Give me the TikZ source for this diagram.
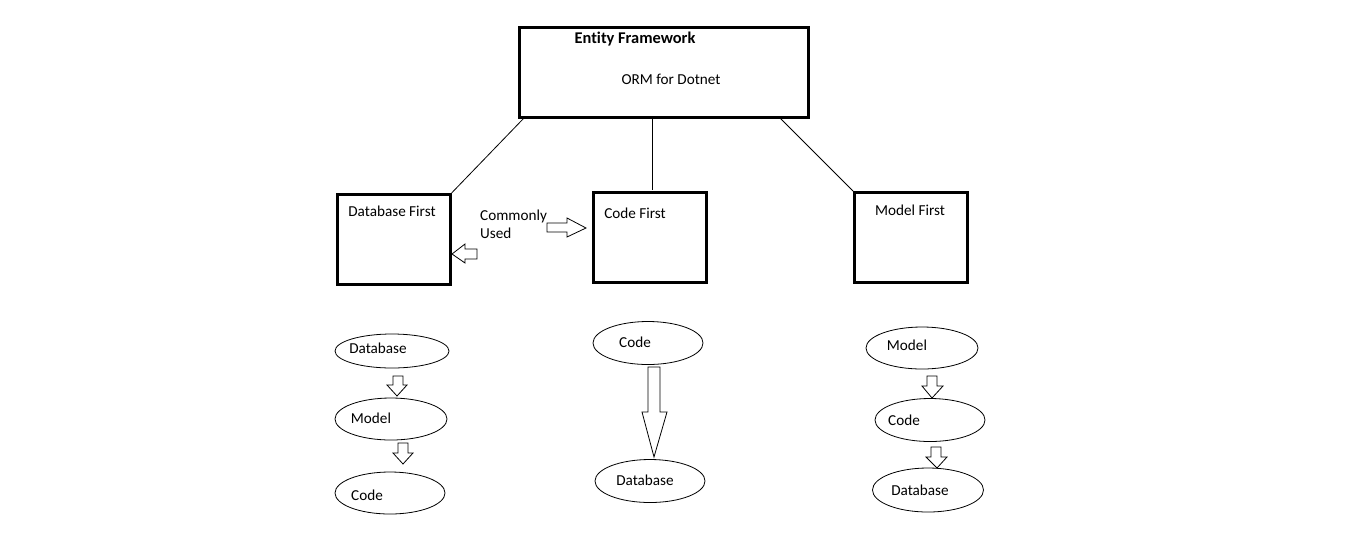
\documentclass[tikz,border=0pt]{standalone}
\usepackage{fontspec}
\setmainfont[Ligatures=NoCommon]{Carlito}
\usetikzlibrary{shapes.geometric}
\begin{document}
\begin{tikzpicture}[x=1pt,y=-1pt,
  box/.style={draw,line width=2.6pt,minimum width=113pt,minimum height=90pt,anchor=north west,inner sep=0pt},
  ell/.style={draw,ellipse,line width=0.8pt,inner sep=0pt},
  lbl/.style={font=\fontsize{15.2}{17}\selectfont,inner sep=0pt},
  link/.style={line width=0.8pt},
  blk/.style={draw,line width=0.8pt,fill=white}]
\useasboundingbox[fill=white] (0,0) rectangle (1356,550);
% top box
\node[box,minimum width=289pt,minimum height=90pt] (top) at (518,26) {};
\node[lbl,font=\fontsize{16.4}{18}\selectfont\bfseries] (ef) at (635,39) {Entity Framework};
\node[lbl] (orm) at (671,79) {ORM for Dotnet};
% three approach boxes
\node[box] (dbf) at (336,193) {};
\node[lbl] (dbft) at (392,211) {Database First};
\node[box] (cf) at (592,191) {};
\node[lbl] (cft) at (635,213) {Code First};
\node[box] (mf) at (853,191) {};
\node[lbl] (mft) at (910,210) {Model First};
% connecting lines
\coordinate (t1) at (524,118);
\coordinate (t2) at (652,118);
\coordinate (t3) at (780,118);
\coordinate (c2) at (652,190);
\draw[link] (t1) -- (dbf.north east);
\draw[link] (t2) -- (c2);
\draw[link] (t3) -- (mf.north west);
% commonly used
\node[lbl,align=left,anchor=west] (cu) at (480,224) {Commonly\\[1pt]Used};
\draw[blk] (547,223) -- (567,223) -- (567,218) -- (586,228) -- (567,237) -- (567,232) -- (547,232) -- cycle;
\draw[blk] (477,249) -- (465,249) -- (465,244) -- (452,254) -- (465,263) -- (465,259) -- (477,259) -- cycle;
% left column
\node[ell,minimum width=114pt,minimum height=34pt] (e1) at (392,351) {};
\node[lbl] at (378,348) {Database};
\node[ell,minimum width=112pt,minimum height=42pt] (e2) at (391,419) {};
\node[lbl] at (371,418) {Model};
\node[ell,minimum width=110pt,minimum height=42pt] (e3) at (390,493) {};
\node[lbl] at (367,495) {Code};
\draw[blk] (393,376) -- (403,376) -- (403,385) -- (407,385) -- (397,396) -- (387,385) -- (393,385) -- cycle;
\draw[blk] (398,443) -- (408,443) -- (408,453) -- (413,453) -- (403,464) -- (393,453) -- (398,453) -- cycle;
% middle column
\node[ell,minimum width=110pt,minimum height=43pt] (m1) at (648,343) {};
\node[lbl] at (635,342) {Code};
\node[ell,minimum width=110pt,minimum height=43pt] (m2) at (650,481) {};
\node[lbl] at (645,480) {Database};
\draw[blk] (648,367) -- (660,367) -- (660,412) -- (667,412) -- (654,457) -- (642,412) -- (648,412) -- cycle;
% right column
\node[ell,minimum width=112pt,minimum height=42pt] (r1) at (922,348) {};
\node[lbl] at (907,345) {Model};
\node[ell,minimum width=110pt,minimum height=43pt] (r2) at (930,420) {};
\node[lbl] at (904,420) {Code};
\node[ell,minimum width=111pt,minimum height=44pt] (r3) at (928,490) {};
\node[lbl] at (920,490) {Database};
\draw[blk] (927,376) -- (937,376) -- (937,386) -- (943,386) -- (932,398) -- (922,386) -- (927,386) -- cycle;
\draw[blk] (931,447) -- (941,447) -- (941,457) -- (947,457) -- (937,468) -- (926,457) -- (931,457) -- cycle;
\end{tikzpicture}
\end{document}
